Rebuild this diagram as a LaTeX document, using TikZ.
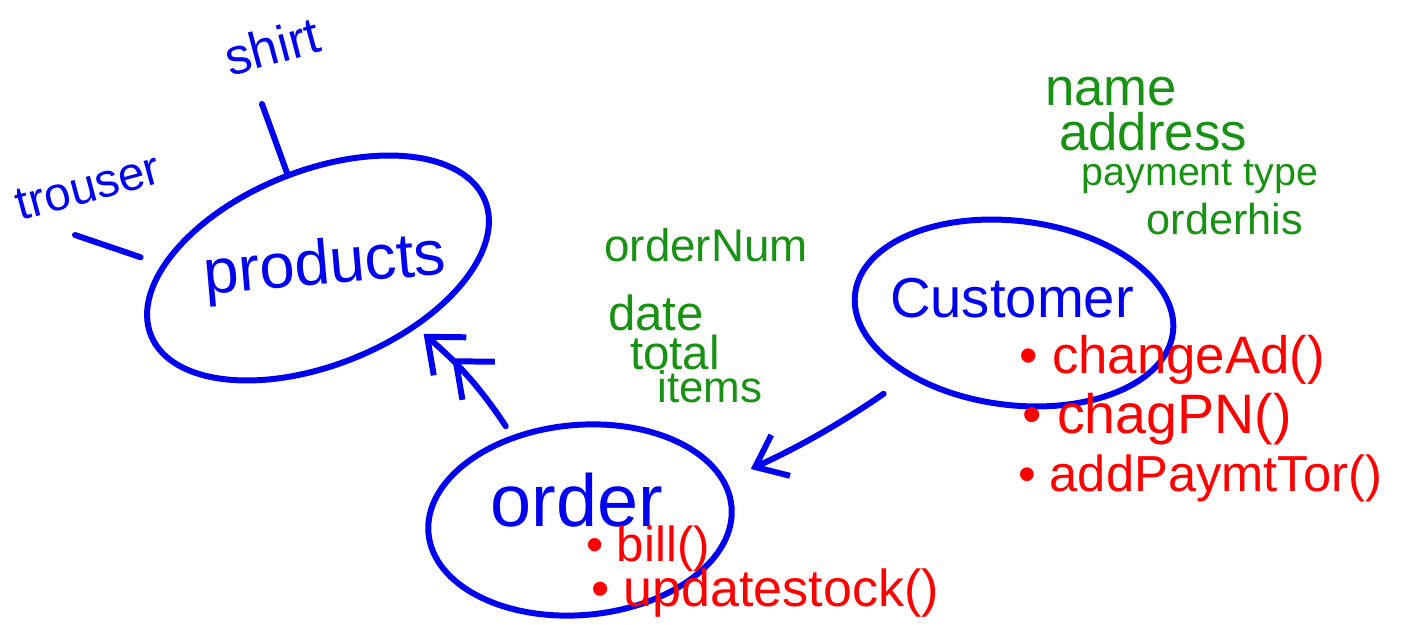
\documentclass[tikz,border=0pt]{standalone}
\usepackage{fontspec}
\setmainfont{Liberation Sans}
\usetikzlibrary{shapes.geometric,arrows.meta}
\definecolor{inkblue}{RGB}{0,0,240}
\definecolor{inkgreen}{RGB}{25,145,20}
\definecolor{inkred}{RGB}{255,0,0}
\tikzset{
  ell/.style={draw=inkblue, line width=1.7pt, ellipse, inner sep=0pt, outer sep=0pt},
  conn/.style={draw=inkblue, line width=1.7pt, line cap=round, line join=round},
  bl/.style={text=inkblue, inner sep=0pt},
  gr/.style={text=inkgreen, inner sep=0pt},
  rd/.style={text=inkred, inner sep=0pt},
  fs/.style={font=\fontsize{#1}{#1}\selectfont}
}
\begin{document}
\begin{tikzpicture}[x=0.01cm, y=-0.01cm]
\path[use as bounding box] (0,0) rectangle (1404,625);

% ellipses
\node[ell, minimum width=3.6cm, minimum height=1.94cm, rotate=22] (pE) at (318,268) {};
\node[ell, minimum width=3.04cm, minimum height=1.9cm, rotate=5] (oE) at (580,520) {};
\node[ell, minimum width=3.2cm, minimum height=1.84cm, rotate=-7] (cE) at (1014,313) {};

% main labels
\node[bl, fs=18, rotate=5] (products) at (325,268) {products};
\node[bl, fs=21, text depth=0pt] (order) at (577,500) {order};
\node[bl, fs=16] (customer) at (1012,298) {Customer};

% product items
\node[bl, fs=14.5, rotate=15] (shirt) at (272,46) {shirt};
\node[bl, fs=13.5, rotate=15] (trouser) at (88,187) {trouser};
\coordinate (shEnd) at (262,104);
\coordinate (trEnd) at (75,235);
\draw[conn] (shEnd) -- (pE.86);
\draw[conn, shorten >=0.25cm] (trEnd) -- (pE.157);

% arrows
\draw[conn, -{Straight Barb[length=0.3cm, width=0.5cm] Straight Barb[length=0.3cm, width=0.5cm]}, shorten <=0.14cm, shorten >=0.12cm]
  (oE.124) to[bend right=8] (pE.-53);
\draw[conn, -{Straight Barb[length=0.28cm, width=0.45cm]}, shorten <=0.33cm, shorten >=0.3cm]
  (cE.218) to[bend left=5] (oE.10);

% order attributes (green)
\node[gr, fs=13] (orderNum) at (706,245) {orderNum};
\node[gr, fs=14, text depth=0pt] (date) at (656,313) {date};
\node[gr, fs=13.5, text depth=0pt] (total) at (675,352) {total};
\node[gr, fs=12.5, text depth=0pt] (items) at (710,387) {items};

% customer attributes (green)
\node[gr, fs=15, text depth=0pt] (name) at (1111,91) {name};
\node[gr, fs=15, text depth=0pt] (address) at (1153,131) {address};
\node[gr, fs=11.2] (ptype) at (1200,177) {payment type};
\node[gr, fs=12.3, text depth=0pt] (orderhis) at (1225,219) {orderhis};

% customer methods (red)
\node[rd, fs=15] (m1) at (1172,360) {• changeAd()};
\node[rd, fs=15.8] (m2) at (1157,419) {• chagPN()};
\node[rd, fs=14.4] (m3) at (1200,478) {• addPaymtTor()};

% order methods (red)
\node[rd, fs=14] (m4) at (648,549) {• bill()};
\node[rd, fs=14.8] (m5) at (765,593) {• updatestock()};
\end{tikzpicture}
\end{document}
